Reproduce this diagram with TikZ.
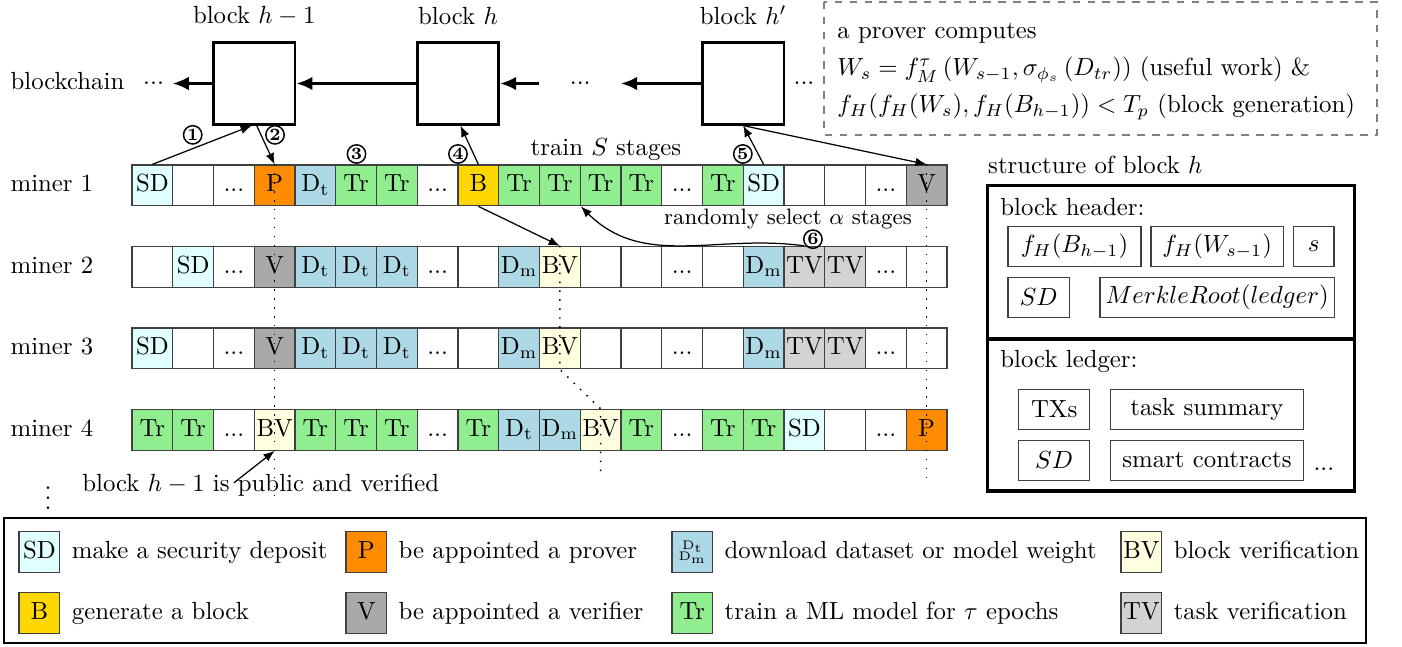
\documentclass[tikz,border=0pt]{standalone}
\usepackage{tikz}
\usepackage{xcolor}
\usetikzlibrary{arrows.meta,positioning}

\definecolor{cSD}{HTML}{E0FFFF}
\definecolor{cP}{HTML}{FF8C00}
\definecolor{cDL}{HTML}{ADD8E6}
\definecolor{cTr}{HTML}{90EE90}
\definecolor{cB}{HTML}{FFD700}
\definecolor{cV}{HTML}{A9A9A9}
\definecolor{cBV}{HTML}{FFFFE0}
\definecolor{cTV}{HTML}{D3D3D3}

\newcommand{\skipd}{...}

\tikzset{
	sqr/.style={draw=black!75, line width=0.5pt, minimum size=16.44pt, inner sep=0pt},
	cell/.style={sqr, text height=7pt, text depth=2pt},
	blk/.style={draw, line width=1.1pt, minimum size=32.89pt, inner sep=0pt},
	chainarr/.style={-{Latex[length=6.5pt,width=5.5pt]}, line width=1.1pt},
	minearr/.style={-{Latex[length=4.5pt,width=3.5pt]}, line width=0.5pt},
	vline/.style={line width=0.6pt, dash pattern=on 0.6pt off 3pt},
	num/.style={circle, draw, line width=0.6pt, inner sep=0pt, minimum size=7.4pt, font=\bfseries\scriptsize},
	field/.style={draw=black!75, line width=0.5pt, minimum height=16.1pt, inner sep=1pt},
	lbl/.style={anchor=west, inner sep=0pt, text height=7pt, text depth=2pt},
}

\begin{document}
\begin{tikzpicture}[x=16.44pt, y=16.44pt]
			\useasboundingbox (-3.239,4.049) rectangle (31.166,-11.804);

			% blockchain
			\node[lbl] (lchain) at (-2.99,2) {blockchain};
			\node (dl) at (0.53,2) {\skipd};
			\node[blk] (bhm1) at (3,2) {};
			\node[blk] (bh) at (8,2) {};
			\node (dm) at (11,2) {\skipd};
			\node[blk] (bhp) at (15,2) {};
			\node (dr) at (16.49,2) {\skipd};
			\node[above=5.8pt of bhm1, inner sep=0.5pt] (tbhm1) {block $h-1$};
			\node[above=5.8pt of bh, inner sep=0.5pt] (tbh) {block $h$};
			\node[above=5.8pt of bhp, inner sep=0.5pt] (tbhp) {block $h'$};
			\coordinate (cm) at (10,2);
			\coordinate (ce) at (12,2);
			\draw[chainarr] (bhm1.west) -- (dl.east);
			\draw[chainarr] (bh.west) -- (bhm1.east);
			\draw[chainarr] (cm) -- (bh.east);
			\draw[chainarr] (bhp.west) -- (ce);

			% prover
			\draw[gray, dashed, line width=0.6pt] (16.98,4.0) rectangle (30.55,0.74);
			\node[anchor=base west, inner sep=0pt] (prov1) at (17.3,3.11) {a prover computes};
			\node[anchor=base west, inner sep=0pt] (prov2) at (17.3,2.19) {$W_s=f_M^{\tau}\left(W_{s-1},\sigma_{\phi_s}\left(D_{tr}\right)\right)$ (useful work) \&};
			\node[anchor=base west, inner sep=0pt] (prov3) at (17.3,1.29) {$f_H(f_H(W_s),f_H(B_{h-1}))<T_p$ (block generation)};

			% miners
			\foreach \row [count=\r] in {
				{cSD/SD, white/, white/\skipd, cP/P, cDL/D$_\mathrm{t}$, cTr/Tr, cTr/Tr, white/\skipd, cB/B, cTr/Tr, cTr/Tr, cTr/Tr, cTr/Tr, white/\skipd, cTr/Tr, cSD/SD, white/, white/, white/\skipd, cV/V},
				{white/, cSD/SD, white/\skipd, cV/V, cDL/D$_\mathrm{t}$, cDL/D$_\mathrm{t}$, cDL/D$_\mathrm{t}$, white/\skipd, white/, cDL/D$_\mathrm{m}$, cBV/BV, white/, white/, white/\skipd, white/, cDL/D$_\mathrm{m}$, cTV/TV, cTV/TV, white/\skipd, white/},
				{cSD/SD, white/, white/\skipd, cV/V, cDL/D$_\mathrm{t}$, cDL/D$_\mathrm{t}$, cDL/D$_\mathrm{t}$, white/\skipd, white/, cDL/D$_\mathrm{m}$, cBV/BV, white/, white/, white/\skipd, white/, cDL/D$_\mathrm{m}$, cTV/TV, cTV/TV, white/\skipd, white/},
				{cTr/Tr, cTr/Tr, white/\skipd, cBV/BV, cTr/Tr, cTr/Tr, cTr/Tr, white/\skipd, cTr/Tr, cDL/D$_\mathrm{t}$, cDL/D$_\mathrm{m}$, cBV/BV, cTr/Tr, white/\skipd, cTr/Tr, cTr/Tr, cSD/SD, white/, white/\skipd, cP/P}}
			{
				\node[lbl] (lm\r) at (-2.99,{1.5-2*\r}) {miner \r};
				\foreach \fc/\txt [count=\k from 0] in \row
					\node[cell, fill=\fc] (m\r-\k) at ({\k+0.5},{1.5-2*\r}) {\txt};
			}

			% dotted
			\coordinate (pend) at (3.5,-8.1);
			\coordinate (vend) at (19.5,-7.8);
			\coordinate (bvend) at (11.5,-7.55);
			\draw[vline] (m1-3.north) -- (pend);
			\draw[vline] (m1-19.north) -- (vend);
			\draw[vline] (m2-10.north) -- (m3-10.south) -- (m4-11.north) -- (bvend);

			% steps
			\draw[minearr] (m1-0.north) -- ([xshift=-1pt]bhm1.south);
			\draw[minearr] ([xshift=1pt]bhm1.south) -- (m1-3.north);
			\draw[minearr] (m1-8.north) -- ([xshift=1pt]bh.south);
			\draw[minearr] (m1-15.north) -- (bhp.south);
			\draw[minearr] (bhp.south) -- (m1-19.north);
			\draw[minearr] (m1-8.south) -- (m2-10.north);
			\draw[minearr] (m2-16.north) to[out=172,in=-45] (m1-10.south east);
			\node[num] (n1) at (1.49,0.74) {1};
			\node[num] (n2) at (3.51,0.74) {2};
			\node[num] (n3) at (5.51,0.27) {3};
			\node[num] (n4) at (8.0,0.27) {4};
			\node[num] (n5) at (14.99,0.27) {5};
			\node[num] (n6) at (16.71,-1.82) {6};
			\node[anchor=base] (ttrain) at (11.63,0.245) {train $S$ stages};
			\node[anchor=base, font=\small] (tsel) at (16.1,-1.47) {randomly select $\alpha$ stages};

			% public
			\node[inner sep=0pt] (vd) at (-2.06,-8.0) {$\vdots$};
			\node[anchor=base west, inner sep=0pt] (tpub) at (-1.23,-8.02) {block $h-1$ is public and verified};
			\coordinate (pubarr) at (2.5,-7.8);
			\draw[minearr] (pubarr) -- (m4-3.south);

			% structure of block h
			\node[anchor=base west, inner sep=0pt] (tstruct) at (21.0,-0.22) {structure of block $h$};
			\draw[line width=1.35pt] (21,-0.5) rectangle (30,-8);
			\draw[line width=1.35pt] (21,-4.27) -- (30,-4.27);
			\node[anchor=base west, inner sep=0pt] (thead) at (21.3,-1.23) {block header:};
			\node[field, minimum width=53.6pt] (fhb) at (23.13,-2.0) {$f_H(B_{h-1})$};
			\node[field, minimum width=53.4pt] (fhw) at (26.63,-2.0) {$f_H(W_{s-1})$};
			\node[field, minimum width=16.4pt] (fs) at (29.0,-2.0) {$s$};
			\node[field, minimum width=24.7pt] (fsd) at (22.25,-3.25) {$SD$};
			\node[field, minimum width=94.5pt] (fmr) at (26.63,-3.25) {$MerkleRoot(ledger)$};
			\node[anchor=base west, inner sep=0pt] (tledg) at (21.3,-4.96) {block ledger:};
			\node[field, minimum width=28.8pt] (ftx) at (22.63,-6.0) {TXs};
			\node[field, minimum width=78.1pt] (fts) at (26.38,-6.0) {task summary};
			\node[field, minimum width=28.8pt] (fsd2) at (22.63,-7.25) {$SD$};
			\node[field, minimum width=78.1pt] (fsc) at (26.38,-7.25) {smart contracts};
			\node (ldots) at (29.25,-7.47) {\skipd};

			% legend
			\draw[line width=0.8pt] (-3.13,-8.66) rectangle (30.28,-11.73);
			\node[cell, fill=cSD] (lgSD) at (-2.27,-9.5) {SD};
			\node[lbl, right=4.4pt of lgSD] (dSD) {make a security deposit};
			\node[cell, fill=cP] (lgP) at (5.75,-9.5) {P};
			\node[lbl, right=4.4pt of lgP] (dP) {be appointed a prover};
			\node[sqr, fill=cDL, align=center, font=\tiny] (lgDL) at (13.75,-9.5) {D$_\mathrm{t}$\\[-1.5pt]D$_\mathrm{m}$};
			\node[lbl, right=4.4pt of lgDL] (dDL) {download dataset or model weight};
			\node[cell, fill=cBV] (lgBV) at (24.77,-9.5) {BV};
			\node[lbl, right=4.4pt of lgBV] (dBV) {block verification};
			\node[cell, fill=cB] (lgB) at (-2.27,-11.0) {B};
			\node[lbl, right=4.4pt of lgB] (dB) {generate a block};
			\node[cell, fill=cV] (lgV) at (5.75,-11.0) {V};
			\node[lbl, right=4.4pt of lgV] (dV) {be appointed a verifier};
			\node[cell, fill=cTr] (lgTr) at (13.75,-11.0) {Tr};
			\node[lbl, right=4.4pt of lgTr] (dTr) {train a ML model for $\tau$ epochs};
			\node[cell, fill=cTV] (lgTV) at (24.77,-11.0) {TV};
			\node[lbl, right=4.4pt of lgTV] (dTV) {task verification};
		\end{tikzpicture}
\end{document}
